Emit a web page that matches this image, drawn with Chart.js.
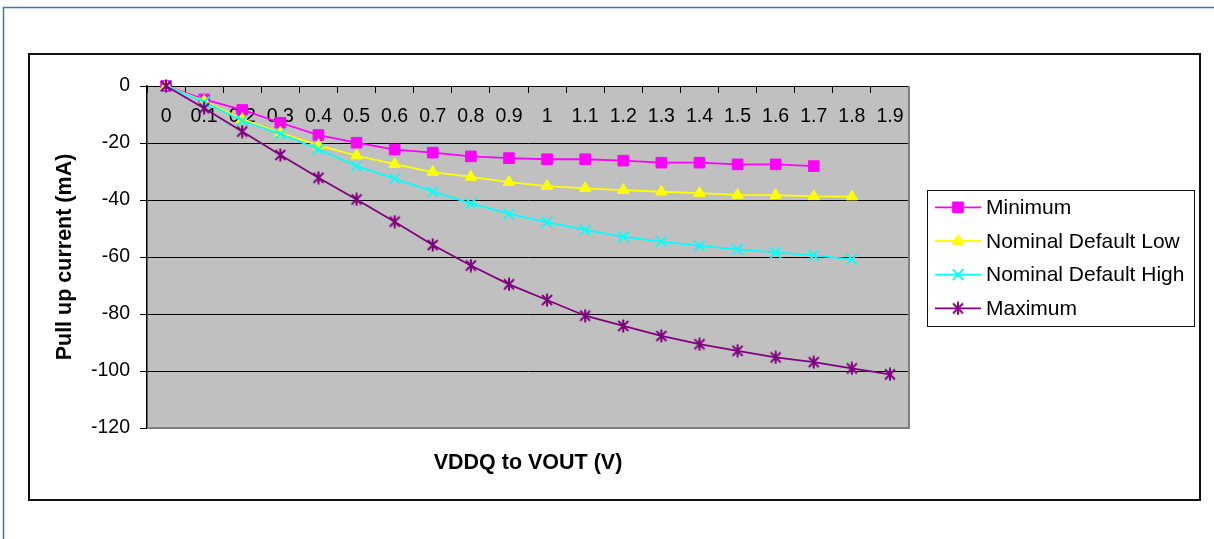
<!DOCTYPE html>
<html>
<head>
<meta charset="utf-8">
<script src="https://cdn.jsdelivr.net/npm/chart.js@4.4.1/dist/chart.umd.min.js"></script>
<style>
html,body{margin:0;padding:0;background:#fff;overflow:hidden;}
canvas{display:block;}
</style>
</head>
<body>
<canvas id="c" width="1214" height="539"></canvas>
<script>
// ---- data ----
const categories = ['0','0.1','0.2','0.3','0.4','0.5','0.6','0.7','0.8','0.9','1','1.1','1.2','1.3','1.4','1.5','1.6','1.7','1.8','1.9'];
const seriesNames = ['Minimum','Nominal Default Low','Nominal Default High','Maximum'];
const minimum     = [0,-4.7,-8.4,-12.9,-17.2,-19.9,-22.3,-23.4,-24.7,-25.3,-25.7,-25.7,-26.2,-26.9,-26.9,-27.5,-27.5,-28.1];
const nominalLow  = [0,-5.3,-11.6,-16.4,-20.8,-24.4,-27.4,-30.2,-31.9,-33.7,-35.1,-35.9,-36.5,-37.1,-37.6,-38.2,-38.3,-38.7,-38.8];
const nominalHigh = [0,-5.6,-12.2,-16.8,-22.2,-28.1,-32.5,-37.1,-41.2,-44.9,-47.8,-50.5,-52.9,-54.6,-56.1,-57.3,-58.4,-59.4,-60.8];
const maximum     = [0,-7.8,-16.0,-24.2,-32.2,-39.8,-47.6,-55.8,-63.0,-69.6,-75.1,-80.6,-84.2,-87.7,-90.6,-92.9,-95.2,-96.9,-99.1,-101.2];
const yTicks = [0,-20,-40,-60,-80,-100,-120];
const xTitle = 'VDDQ to VOUT (V)';
const yTitle = 'Pull up current (mA)';

const FONT = '"Liberation Sans", Arial, Helvetica, sans-serif';

function asteriskMarker(color){
  const c = document.createElement('canvas');
  c.width = 14; c.height = 14;
  const g = c.getContext('2d');
  g.strokeStyle = color; g.lineWidth = 2; g.lineCap = 'butt';
  g.beginPath();
  g.moveTo(2,2); g.lineTo(12,12);
  g.moveTo(12,2); g.lineTo(2,12);
  g.moveTo(7,0.5); g.lineTo(7,13.5);
  g.stroke();
  return c;
}

const decor = {
  id: 'decor',
  beforeDraw(chart){
    const ctx = chart.ctx, a = chart.chartArea;
    ctx.save();
    ctx.fillStyle = '#fff';
    ctx.fillRect(0,0,chart.width,chart.height);
    // outer page frame (top + left)
    ctx.strokeStyle = '#3a78c4'; ctx.lineWidth = 1.5;
    ctx.beginPath(); ctx.moveTo(3.5,chart.height); ctx.lineTo(3.5,7.5); ctx.lineTo(chart.width,7.5); ctx.stroke();
    // chart border
    ctx.strokeStyle = '#111'; ctx.lineWidth = 2;
    ctx.strokeRect(29,54,1171,446);
    // plot area
    ctx.fillStyle = '#c0c0c0';
    ctx.fillRect(a.left,a.top,a.right-a.left,a.bottom-a.top);
    ctx.restore();
  },
  beforeDatasetsDraw(chart){
    const ctx = chart.ctx, a = chart.chartArea;
    ctx.save();
    ctx.strokeStyle = '#808080'; ctx.lineWidth = 2;
    ctx.beginPath();
    ctx.moveTo(a.left, a.bottom); ctx.lineTo(a.right, a.bottom); ctx.lineTo(a.right, a.top);
    ctx.stroke();
    ctx.restore();
  },
  afterDraw(chart){
    const ctx = chart.ctx;
    const box = {x:927, y:190, w:267, h:136};
    ctx.save();
    ctx.fillStyle = '#fff';
    ctx.fillRect(box.x, box.y, box.w, box.h);
    ctx.strokeStyle = '#111'; ctx.lineWidth = 1;
    ctx.strokeRect(box.x+0.5, box.y+0.5, box.w, box.h);
    const rowH = 33.7;
    chart.data.datasets.forEach((ds, i) => {
      const y = box.y + 17.3 + i*rowH;
      ctx.strokeStyle = ds.borderColor; ctx.lineWidth = ds.borderWidth;
      ctx.beginPath(); ctx.moveTo(box.x+8, y); ctx.lineTo(box.x+54, y); ctx.stroke();
      ctx.fillStyle = ds.pointBackgroundColor; ctx.strokeStyle = ds.pointBorderColor;
      ctx.lineWidth = ds.pointBorderWidth;
      Chart.helpers.drawPoint(ctx, {pointStyle: ds.pointStyle, radius: ds.pointRadius, borderWidth: ds.pointBorderWidth, rotation: 0}, box.x+31, y);
      ctx.fillStyle = '#000';
      ctx.font = '21px ' + FONT;
      ctx.textBaseline = 'middle'; ctx.textAlign = 'left';
      ctx.fillText(ds.label, box.x+59, y+1);
    });
    ctx.restore();
  }
};

const datasets = [
  {label: seriesNames[0], data: minimum, borderColor:'#ff00ff', borderWidth:1.8,
   pointStyle:'rect', pointRadius:7.5, pointBackgroundColor:'#ff00ff', pointBorderColor:'#ff00ff', pointBorderWidth:1, order:3},
  {label: seriesNames[1], data: nominalLow, borderColor:'#ffff00', borderWidth:1.8,
   pointStyle:'triangle', pointRadius:6.6, pointBackgroundColor:'#ffff00', pointBorderColor:'#ffff00', pointBorderWidth:1, order:2},
  {label: seriesNames[2], data: nominalHigh, borderColor:'#00ffff', borderWidth:1.8,
   pointStyle:'crossRot', pointRadius:7.5, pointBackgroundColor:'#00ffff', pointBorderColor:'#00ffff', pointBorderWidth:1.8, order:1},
  {label: seriesNames[3], data: maximum, borderColor:'#800080', borderWidth:1.8,
   pointStyle: asteriskMarker('#800080'), pointRadius:7, pointBackgroundColor:'#800080', pointBorderColor:'#800080', pointBorderWidth:1.8, order:0}
].map(d => Object.assign({fill:false, tension:0, clip:false, pointHoverRadius:d.pointRadius}, d));

new Chart(document.getElementById('c'), {
  type: 'line',
  data: { labels: categories, datasets },
  plugins: [decor],
  options: {
    responsive: false,
    animation: false,
    devicePixelRatio: 1,
    layout: { padding: { left: 52.4, right: 305, top: 86, bottom: 63.1 } },
    plugins: { legend: { display: false }, tooltip: { enabled: false } },
    scales: {
      x: {
        type: 'category',
        position: { y: 0 },
        offset: true,
        grid: { offset: true, drawOnChartArea: false, drawTicks: true, tickLength: 6, tickColor: '#000', tickWidth: 1 },
        border: { display: true, color: '#000', width: 1 },
        ticks: { autoSkip: false, maxRotation: 0, minRotation: 0, padding: 13, color: '#000', font: { family: FONT, size: 19.5 } }
      },
      y: {
        type: 'linear',
        position: 'left',
        min: -120, max: 0,
        afterBuildTicks: s => { s.ticks = yTicks.map(v => ({ value: v })); },
        afterFit: s => { s.width = 94.6; },
        grid: {
          color: c => (c.tick && c.tick.value === -120) ? 'rgba(0,0,0,0)' : '#000',
          lineWidth: 1, tickLength: 7, tickColor: '#000', tickWidth: 1
        },
        border: { display: true, color: '#000', width: 1.5 },
        ticks: { padding: 10, color: '#000', font: { family: FONT, size: 19.5 } },
        title: { display: true, text: yTitle, color: '#000', padding: { top: 0, bottom: 0 },
                 font: { family: FONT, size: 21.5, weight: 'bold' } }
      },
      xTitleAxis: {
        type: 'category',
        position: 'bottom',
        grid: { display: false },
        border: { display: false },
        ticks: { display: false },
        afterFit: s => { s.height = 47.9; },
        title: { display: true, text: xTitle, color: '#000', padding: { top: 0, bottom: 0 },
                 font: { family: FONT, size: 21.5, weight: 'bold' } }
      }
    }
  }
});
</script>
</body>
</html>
